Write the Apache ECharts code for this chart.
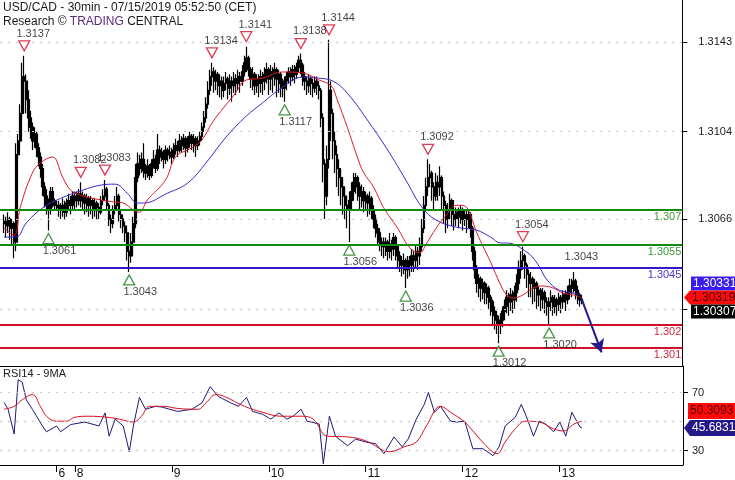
<!DOCTYPE html>
<html><head><meta charset="utf-8">
<script src="https://cdn.jsdelivr.net/npm/echarts@6/dist/echarts.min.js"></script>
<style>html,body{margin:0;padding:0;background:#fff}#c{width:735px;height:480px}</style>
</head><body><div id="c"></div><script>
// ---------- data ----------
const N_CATS = 339;          // 30-min slots across the plot
const FIRST_BAR = 2;         // slot of the first bar
const dayTickIdx = [28, 37, 85, 133, 181, 229, 277];
const dayTickLabels = ['6', '8', '9', '10', '11', '12', '13'];

// prices in pips above 1.3000
const opens = [64,65,63,66,62,64,56,94,100,112,
128,126,118,110,106,100,103,97,93,88,
80,76,72,70,78,74,72,72,71,70,
72,69,73,74,72,76,74,75,77,74,
76,73,75,72,74,70,73,71,69,74,
76,79,72,66,64,70,72,76,68,66,
63,60,52,50,56,64,84,90,88,92,
87,86,89,85,90,92,88,96,93,95,
92,96,94,95,93,96,98,96,100,98,
101,97,100,102,99,101,98,100,102,106,
110,116,122,128,130,126,129,124,126,122,
125,127,123,126,124,127,125,128,126,130,
134,136,131,127,129,124,127,125,128,126,
129,131,127,130,128,131,127,129,125,123,
126,128,130,128,131,129,132,135,133,128,
126,124,127,125,123,126,124,122,110,90,
76,92,122,112,100,94,88,84,80,76,
72,70,74,78,82,84,80,76,78,74,
76,73,75,70,66,62,60,56,55,54,
56,52,55,53,58,54,50,48,46,48,
44,48,46,50,48,52,50,54,62,72,
80,84,86,80,76,82,80,84,76,72,
66,70,74,68,66,69,67,70,66,68,
66,68,62,52,44,38,40,36,38,34,
36,32,30,26,24,22,20,22,26,28,
32,30,33,31,34,38,44,48,50,46,
42,38,40,36,38,33,35,31,34,30,
28,30,32,28,31,29,32,30,33,31,
34,37,36,39,35,33,31];
const closes = [65,63,66,62,64,56,94,100,112,128,
126,118,110,106,100,103,97,93,88,80,
76,72,70,78,74,72,72,71,70,72,
69,73,74,72,76,74,75,77,74,76,
73,75,72,74,70,73,71,69,74,76,
79,72,66,64,70,72,76,68,66,63,
60,52,50,56,64,84,90,88,92,87,
86,89,85,90,92,88,96,93,95,92,
96,94,95,93,96,98,96,100,98,101,
97,100,102,99,101,98,100,102,106,110,
116,122,128,130,126,129,124,126,122,125,
127,123,126,124,127,125,128,126,130,134,
136,131,127,129,124,127,125,128,126,129,
131,127,130,128,131,127,129,125,123,126,
128,130,128,131,129,132,135,133,128,126,
124,127,125,123,126,124,122,110,90,76,
92,122,112,100,94,88,84,80,76,72,
70,74,78,82,84,80,76,78,74,76,
73,75,70,66,62,60,56,55,54,56,
52,55,53,58,54,50,48,46,48,44,
48,46,50,48,52,50,54,62,72,80,
84,86,80,76,82,80,84,76,72,66,
70,74,68,66,69,67,70,66,68,66,
68,62,52,44,38,40,36,38,34,36,
32,30,26,24,22,20,22,26,28,32,
30,33,31,34,38,44,48,50,46,42,
38,40,36,38,33,35,31,34,30,28,
30,32,28,31,29,32,30,33,31,34,
37,36,39,35,33,31,30.7];
const highs = [68,67,69,67,66,65,99,103,116,134,
137,129,122,113,108,106,104,99,95,90,
82,79,75,80,80,75,74,74,73,75,
74,75,77,76,78,78,78,79,82,78,
77,77,76,76,75,75,74,73,76,79,
83,80,73,68,72,76,80,77,70,68,
65,61,56,60,67,90,95,94,95,99,
90,92,90,92,96,94,103,98,97,96,
98,97,98,97,99,101,100,103,102,103,
102,102,104,103,103,102,102,104,108,113,
119,126,131,134,132,131,130,129,128,128,
130,128,129,128,130,129,131,130,133,137,
141,137,132,132,130,129,129,131,130,132,
134,132,133,132,134,132,131,130,127,128,
130,132,132,133,133,134,137,138,134,130,
128,129,128,127,128,128,126,123,112,92,
98,144,126,114,104,98,92,88,84,80,
76,78,82,86,86,85,82,81,80,78,
77,78,76,72,68,64,62,58,58,58,
57,60,57,60,59,55,52,50,51,49,
50,50,53,52,55,54,58,66,76,84,
92,90,87,82,86,85,89,85,78,74,
73,77,75,70,71,71,72,71,70,70,
70,69,63,54,46,42,41,40,39,38,
37,33,31,28,26,24,25,28,31,35,
34,36,35,37,42,48,52,54,51,47,
44,43,41,40,39,37,36,36,35,32,
32,35,33,33,32,34,33,35,35,37,
40,40,43,40,37,34,33];
const lows = [60,58,60,57,55,49,52,92,98,110,
118,112,104,101,96,97,93,89,84,76,
71,68,61,68,71,70,70,67,66,67,
66,67,70,68,70,70,71,72,71,70,
68,69,67,68,66,67,66,66,68,72,
74,70,63,60,62,68,70,65,62,60,
56,48,43,47,54,62,82,85,86,84,
83,84,83,84,88,86,87,90,91,88,
90,91,92,90,92,94,93,95,95,96,
93,95,97,96,95,93,96,98,100,104,
108,114,120,124,121,122,120,119,118,119,
122,118,120,117,121,120,122,121,124,128,
130,128,123,122,120,121,119,121,120,122,
125,120,122,121,124,119,121,119,119,117,
122,125,124,126,125,127,130,129,124,122,
120,121,120,119,121,120,118,106,82,66,
72,88,100,92,86,80,76,72,68,66,
62,56,70,74,77,74,70,71,69,70,
67,68,66,62,58,55,52,50,49,50,
48,49,48,50,48,45,43,41,42,36,
40,41,43,43,45,44,46,52,60,70,
76,80,74,70,74,74,76,70,64,60,
62,66,63,61,63,62,64,61,63,60,
62,58,48,40,34,32,30,31,29,29,
27,24,20,18,16,12,16,19,22,25,
24,26,25,27,30,35,40,44,40,36,
32,32,29,30,27,28,26,27,25,24,
20,26,24,25,24,26,25,27,26,29,
31,32,34,31,29,28,29];

// moving averages: [slot, pips]
const redMaPts = [[2,62],[7,59],[10,71],[16,86],[20,90.4],[26,93],[31,84.3],[35,78.6],[40,76.4],[50,74.3],[57,73.4],[61,73],[66,70],[69,69],[73,74.3],[82,83],[87,93],[95,97],[100,100.4],[105,107.8],[111,114.7],[116,120],[122,126.5],[130,127.3],[140,130],[150,129.5],[158,126.5],[164,124],[167,118],[172,106],[177,93],[180,86.4],[185,80],[190,71],[197,62],[203,53.5],[208,51.4],[211,55],[216,62],[221,67.7],[226,72],[229,72],[232,70],[236,60.4],[243,47.3],[248,37.3],[251,33],[254,31.6],[259,33],[264,36],[269,36.9],[274,36],[279,33.8],[284,33],[288,31.9]];
const blueMaPts = [[2,58.2],[8,58.2],[13,64.3],[21,70.8],[30,75],[41,78.6],[50,80.8],[57,81.2],[63,77.3],[68,73],[71,73],[83,77.3],[93,81.7],[102,90.4],[112,101.7],[122,110.8],[130,116.5],[140,123.4],[150,127.8],[158,127.3],[165,126],[172,120.8],[183,107.8],[193,94.7],[201,83],[209,71.2],[216,65.6],[226,62.5],[236,61.2],[243,58.2],[248,55.6],[251,55.6],[261,51.6],[266,46.9],[271,39.5],[277,35.1],[284,33.8],[288,33.1]];

// RSI14 and its 9MA: [slot, value]
const rsiPts = [[2,63.2],[4,58.5],[7,41.5],[9,78.8],[11,77],[13,65],[16,58.5],[21,47],[23,43],[28,47],[30,43],[35,48],[42,49.7],[49,47],[52,56],[54,40],[57,51.7],[61,47],[64,29.3],[66,47],[69,66.6],[72,58.5],[77,60.5],[80,60],[84,58.5],[88,57],[95,58.5],[100,63],[104,74],[108,67.3],[114,63],[118,60.5],[122,66.6],[125,57],[130,55],[134,51.7],[138,56],[142,51.7],[145,53.7],[149,58.5],[152,50.3],[154,49.7],[158,48.3],[160,21],[163,53.7],[166,40],[172,33.4],[176,38],[181,36],[186,34.7],[190,28],[195,39.5],[199,32.7],[202,38],[206,51.7],[210,61.9],[212,70],[215,56.4],[218,60.5],[223,50.3],[226,49.7],[230,50.3],[234,31.4],[239,31.4],[244,26.6],[247,32.7],[250,47],[255,53],[258,61.9],[261,51.7],[264,40],[267,50.3],[270,48.3],[274,43],[277,49.7],[280,40],[283,56.4],[287,46.3],[288,45.6831]];
const rsiMaPts = [[2,58.5],[7,60.5],[11,65],[16,68.6],[20,60.5],[23,53.7],[28,50.3],[33,50.3],[37,53],[44,53.7],[53,53],[59,51.7],[66,49.7],[70,53.7],[74,60.5],[81,60.5],[88,59],[98,58.5],[102,63],[107,68.6],[111,67.3],[121,60.5],[130,56.4],[139,53.7],[149,53.7],[155,51.7],[162,40],[172,39.5],[181,36.8],[193,29.3],[200,32.7],[206,36],[211,47],[218,60.5],[223,56.4],[230,49.7],[234,43.6],[242,31.4],[246,28],[250,36],[255,45],[260,50.3],[267,49.7],[274,45],[279,43.6],[284,48.3],[288,50.3093]];

const priceTicks = [1.3143, 1.3104, 1.3066, 1.3027];
const priceTickLabels = [1.3143, 1.3104, 1.3066];
const rsiTicks = [70, 30];
const rsiGrid = [70, 50, 30];

const levelValues = [1.307, 1.3055, 1.3045, 1.302, 1.301];
const levelLabels = ['1.307', '1.3055', '1.3045', '1.302', '1.301'];

const highMarks = [[12,1.3137],[40,1.3082],[52,1.3083],[105,1.3134],[122,1.3141],[149,1.3138],[163,1.3144],[212,1.3092],[259,1.3054]];
const lowMarks = [[24,1.3061],[64,1.3043],[141,1.3117],[173,1.3056],[201,1.3036],[247,1.3012],[272,1.3020]];
const pivotNote = [288, 1.3043];
const forecastArrow = [[288, 1.30315], [298, 1.3008]];

const lastClose = 1.30307, redMaLast = 1.30319, blueMaLast = 1.30331;
const rsiLast = 45.6831, rsiMaLast = 50.3093;

const titleLine1 = 'USD/CAD - 30min - 07/15/2019 05:52:50 (CET)';
const rsiTitle = 'RSI14 - 9MA';

// ---------- build ----------
const P = p => +(1.3 + p / 10000).toFixed(5);
const cats = Array.from({length: N_CATS}, (_, i) => String(i));
const candles = opens.map((o, k) => [k + FIRST_BAR, P(o), P(closes[k]), P(lows[k]), P(highs[k])]);
const FONT = '"Liberation Sans", Arial, sans-serif';
const isDay = i => dayTickIdx.indexOf(i) >= 0;

const GREEN = '#128a12', BLUE = '#3516c8', RED = '#d0102a';
const levelColors = [GREEN, GREEN, BLUE, RED, RED];
const levelTextColors = ['#3c9a3c', '#3c9a3c', '#4a32d0', '#d0283c', '#d0283c'];

const chart = echarts.init(document.getElementById('c'), null, {renderer: 'canvas'});
const option = {
  animation: false,
  backgroundColor: '#fff',
  grid: [
    {left: 0, top: 0, width: 683, height: 366},
    {left: 0, top: 366, width: 683, height: 101}
  ],
  xAxis: [
    {type: 'category', gridIndex: 0, data: cats, boundaryGap: false,
     axisLine: {show: true, lineStyle: {color: '#000', width: 1}},
     axisTick: {show: false}, axisLabel: {show: false}, splitLine: {show: false}},
    {type: 'category', gridIndex: 1, data: cats, boundaryGap: false,
     axisLine: {show: true, lineStyle: {color: '#000', width: 1}},
     axisTick: {show: true, interval: (i) => isDay(i), length: 7, lineStyle: {color: '#000'}},
     axisLabel: {show: true, interval: (i) => isDay(i), align: 'left', margin: 3, padding: [0, 0, 0, 2],
       color: '#111', fontSize: 12, fontFamily: FONT,
       formatter: (v, i) => dayTickLabels[dayTickIdx.indexOf(+v)] || ''},
     splitLine: {show: false}}
  ],
  yAxis: [
    {type: 'value', gridIndex: 0, position: 'right', min: 1.30021, max: 1.31613,
     axisLine: {show: true, lineStyle: {color: '#000', width: 1}},
     axisTick: {show: true, customValues: priceTicks, length: 5, lineStyle: {color: '#000'}},
     axisLabel: {show: true, customValues: priceTickLabels, margin: 16, color: '#222', fontSize: 11,
       fontFamily: FONT, formatter: v => (+v).toFixed(4)},
     splitLine: {show: false}},
    {type: 'value', gridIndex: 1, position: 'right', min: 20.2, max: 88.2,
     axisLine: {show: true, lineStyle: {color: '#000', width: 1}},
     axisTick: {show: true, customValues: rsiTicks, length: 5, lineStyle: {color: '#000'}},
     axisLabel: {show: true, customValues: rsiTicks, margin: 9, color: '#222', fontSize: 11,
       fontFamily: FONT, formatter: v => String(Math.round(v))},
     splitLine: {show: false}}
  ],
  series: [
    // dotted gridlines
    {type: 'line', xAxisIndex: 0, yAxisIndex: 0, data: [], silent: true, z: 1,
     markLine: {silent: true, precision: 6, symbol: ['none', 'none'], label: {show: false},
       lineStyle: {color: '#c4c4c4', type: [2, 6], width: 1},
       data: priceTicks.map(v => ({yAxis: v}))}},
    {type: 'line', xAxisIndex: 1, yAxisIndex: 1, data: [], silent: true, z: 1,
     markLine: {silent: true, precision: 4, symbol: ['none', 'none'], label: {show: false},
       lineStyle: {color: '#c4c4c4', type: [2, 6], width: 1},
       data: rsiGrid.map(v => ({yAxis: v}))}},
    // price bars
    {type: 'candlestick', xAxisIndex: 0, yAxisIndex: 0, data: candles,
     encode: {x: 0, y: [1, 2, 3, 4]}, barWidth: 2.2, barMinWidth: 2, z: 2,
     itemStyle: {color: '#000', color0: '#000', borderColor: '#000', borderColor0: '#000', borderWidth: 1.2}},
    // MAs
    {type: 'line', xAxisIndex: 0, yAxisIndex: 0, data: blueMaPts.map(d => [d[0], P(d[1])]),
     showSymbol: false, smooth: 0.4, z: 3, lineStyle: {color: '#3a2ad0', width: 1}},
    {type: 'line', xAxisIndex: 0, yAxisIndex: 0, data: redMaPts.map(d => [d[0], P(d[1])]),
     showSymbol: false, smooth: 0.4, z: 4, lineStyle: {color: '#e01a2a', width: 1},
     markLine: {silent: true, precision: 6, symbol: ['none', 'none'],
       data: levelValues.map((v, k) => ({yAxis: v,
         lineStyle: {color: levelColors[k], width: 2, type: 'solid'},
         label: {show: true, position: 'insideEndBottom', distance: [1, 2], formatter: levelLabels[k],
           color: levelTextColors[k], fontSize: 11, fontFamily: FONT}}))}},
    // forecast arrow
    {type: 'line', xAxisIndex: 0, yAxisIndex: 0, data: [], z: 6,
     markLine: {silent: true, precision: 6, symbol: ['none', 'arrow'], symbolSize: [11, 13], label: {show: false},
       lineStyle: {color: '#221a8c', width: 2, type: 'solid'},
       data: [[{coord: forecastArrow[0]}, {coord: forecastArrow[1]}]]}},
    // high markers
    {type: 'scatter', xAxisIndex: 0, yAxisIndex: 0, data: highMarks, z: 7,
     symbol: 'path://M0,0 L10,0 L5,9 Z', symbolSize: [11, 10], symbolOffset: [0, -10],
     itemStyle: {color: '#fff', borderColor: '#d0102a', borderWidth: 1.3},
     label: {show: true, position: 'top', distance: 1, offset: [9, 0], color: '#111', fontSize: 11,
       fontFamily: FONT, formatter: p => p.value[1].toFixed(4)}},
    // low markers
    {type: 'scatter', xAxisIndex: 0, yAxisIndex: 0, data: lowMarks, z: 7,
     symbol: 'path://M5,0 L10,9 L0,9 Z', symbolSize: [11, 10], symbolOffset: [0, 8],
     itemStyle: {color: '#fff', borderColor: '#1a7a1a', borderWidth: 1.3},
     label: {show: true, position: 'bottom', distance: 1, offset: [11, 0], color: '#111', fontSize: 11,
       fontFamily: FONT, formatter: p => p.value[1].toFixed(4)}},
    // pivot note
    {type: 'scatter', xAxisIndex: 0, yAxisIndex: 0, data: [pivotNote], symbolSize: 0, z: 7,
     label: {show: true, position: 'inside', offset: [0, -15], color: '#111', fontSize: 11,
       fontFamily: FONT, formatter: p => p.value[1].toFixed(4)}},
    // RSI
    {type: 'line', xAxisIndex: 1, yAxisIndex: 1, data: rsiPts, showSymbol: false, z: 3,
     lineStyle: {color: '#1f1878', width: 1}},
    {type: 'line', xAxisIndex: 1, yAxisIndex: 1, data: rsiMaPts, showSymbol: false, smooth: 0.4, z: 4,
     lineStyle: {color: '#d8101e', width: 1}}
  ]
};
chart.setOption(option);

// value boxes on the right axis
const yMain = v => chart.convertToPixel({yAxisIndex: 0}, v);
const yRsi = v => chart.convertToPixel({yAxisIndex: 1}, v);
function box(cy, txt, fill, textFill, pointer, h, x0) {
  const els = [];
  if (pointer) els.push({type: 'polygon', shape: {points: [[684, cy], [x0, cy - h / 2], [x0, cy + h / 2]]}, style: {fill: fill}});
  els.push({type: 'rect', shape: {x: x0, y: cy - h / 2, width: 735 - x0, height: h}, style: {fill: fill}});
  els.push({type: 'text', x: x0 + 2, y: cy, style: {text: txt, fill: textFill, font: '12px ' + FONT, verticalAlign: 'middle', align: 'left'}});
  return els;
}
const cRed = yMain(redMaLast);
const cRsi = yRsi(rsiLast);
const graphics = [
  {type: 'text', left: 3, top: 2, style: {text: titleLine1, fill: '#1a1a1a', font: '12px ' + FONT}},
  {type: 'text', left: 3, top: 16, style: {text: 'Research © {p|TRADING} CENTRAL', fill: '#1a1a1a', font: '12px ' + FONT,
     rich: {p: {fill: '#5a2a78', font: '12px ' + FONT}}}},
  {type: 'text', left: 3, top: 368, style: {text: rsiTitle, fill: '#1a1a1a', font: '11px ' + FONT}}
].concat(
  box(cRed - 14, blueMaLast.toFixed(5), '#3a1cf0', '#fff', false, 14, 691),
  box(cRed, redMaLast.toFixed(5), '#ff0a0a', '#4a0000', true, 14, 690),
  box(cRed + 14, lastClose.toFixed(5), '#000', '#fff', false, 14, 691),
  box(cRsi - 17, rsiMaLast.toFixed(4), '#ff0a0a', '#4a0000', false, 16, 688),
  box(cRsi, rsiLast.toFixed(4), '#24188a', '#fff', true, 16, 690)
);
chart.setOption({graphic: graphics});
</script></body></html>
